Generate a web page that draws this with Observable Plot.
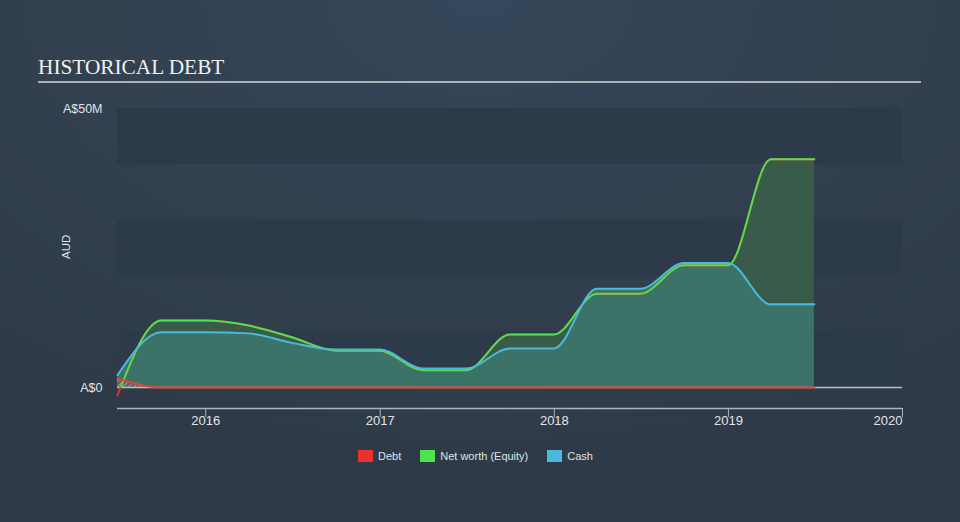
<!DOCTYPE html>
<html>
<head>
<meta charset="utf-8">
<script src="https://cdn.jsdelivr.net/npm/d3@7"></script>
<script src="https://cdn.jsdelivr.net/npm/@observablehq/plot@0.6"></script>
<style>
  html, body { margin: 0; padding: 0; }
  #wrap {
    position: relative; width: 960px; height: 522px; overflow: hidden;
    background: radial-gradient(ellipse 80% 90% at 50% 0%, #35475a 0%, #323f4e 60%, #2e3a47 100%);
    font-family: "Liberation Sans", Arial, sans-serif;
  }
  #title {
    position: absolute; left: 38px; top: 56px; margin: 0;
    font-family: "Liberation Serif", "Times New Roman", serif;
    font-size: 21.3px; line-height: 22px; font-weight: normal; color: #f0f0f0;
  }
  #rule { position: absolute; left: 38px; top: 81px; width: 883px; height: 2px; background: #aab1b9; }
  #chart { position: absolute; left: 0; top: 0; }
  #legend {
    position: absolute; left: 358px; top: 450px; height: 12px;
    display: flex; align-items: center; font-size: 11px; color: #dfe3e7;
  }
  .item { display: flex; align-items: center; margin-right: 19px; }
  .sw { width: 15px; height: 12px; margin-right: 5px; }
</style>
</head>
<body>
<div id="wrap">
  <div id="title">HISTORICAL DEBT</div>
  <div id="rule"></div>
  <div id="chart"></div>
  <div id="legend"></div>
</div>
<script>
// ---- data (values in A$ millions) ----
const dates = ["2015-06-30","2015-09-30","2015-12-31","2016-03-31","2016-06-30","2016-09-30",
  "2016-12-31","2017-03-31","2017-06-30","2017-09-30","2017-12-31","2018-03-31","2018-06-30",
  "2018-09-30","2018-12-31","2019-03-31","2019-06-30"];
const netWorth = [-1.4, 12.0, 12.0, 11.1, 9.0, 6.6, 6.6, 3.1, 3.1, 9.5, 9.5, 16.8, 16.8, 21.9, 21.9, 40.9, 40.9];
const cash     = [2.2, 9.9, 9.9, 9.7, 8.0, 6.8, 6.8, 3.4, 3.4, 7.0, 7.0, 17.7, 17.7, 22.3, 22.3, 14.9, 14.9];
const debt     = [1.6, 0, 0, 0, 0, 0, 0, 0, 0, 0, 0, 0, 0, 0, 0, 0, 0];
const xDomain = ["2015-06-30", "2020-01-01"];
const yearTicks = ["2016-01-01","2017-01-01","2018-01-01","2019-01-01"];
const lastTick = ["2020-01-01"];
const yTicks = [0, 50];
const yLabels = ["A$0", "A$50M"];
const bandLow = [0, 20, 40];
const bandHigh = [10, 30, 50];
const seriesNames = ["Debt", "Net worth (Equity)", "Cash"];
const seriesColors = ["#e8302e", "#4fe24f", "#4bb8dc"];

const toDate = s => new Date(s + "T00:00:00Z");
const rows = dates.map((d, i) => ({date: toDate(d), netWorth: netWorth[i], cash: cash[i], debt: debt[i]}));
const bands = bandLow.map((lo, i) => ({lo, hi: bandHigh[i]}));
const xd = xDomain.map(toDate);

const axisStyle = {tickFormat: "%Y", tickSize: 9, tickPadding: -2, dy: 21,
  stroke: "#aab2bb", fill: "#e0e4e8", fontSize: 13, label: null};

const chart = Plot.plot({
  width: 960, height: 522,
  marginLeft: 117, marginRight: 58, marginTop: 108, marginBottom: 135,
  style: {background: "transparent", color: "#dde2e6", fontFamily: "'Liberation Sans', Arial, sans-serif", overflow: "visible"},
  x: {type: "utc", domain: xd},
  y: {domain: [0, 50]},
  marks: [
    Plot.rect(bands, {x1: () => xd[0], x2: () => xd[1], y1: "lo", y2: "hi", fill: "#2d3a49"}),
    Plot.areaY(rows, {x: "date", y: "netWorth", fill: "#395c4a", curve: "monotone-x", clip: true}),
    Plot.areaY(rows, {x: "date", y: "cash", fill: "#3c7369", curve: "monotone-x", clip: true}),
    Plot.areaY(rows, {x: "date", y: "debt", fill: "url(#hatch)", curve: "monotone-x", clip: true}),
    Plot.ruleY([0], {stroke: "#b9bec4", strokeWidth: 1.5}),
    Plot.line(rows, {x: "date", y: "netWorth", stroke: seriesColors[0], strokeWidth: 2, curve: "monotone-x"}),
    Plot.line(rows, {x: "date", y: "netWorth", stroke: seriesColors[1], strokeWidth: 2, curve: "monotone-x", clip: true}),
    Plot.line(rows, {x: "date", y: "cash", stroke: seriesColors[2], strokeWidth: 2, curve: "monotone-x"}),
    Plot.line(rows, {x: "date", y: "debt", stroke: "#e0443c", strokeWidth: 2, curve: "monotone-x"}),
    Plot.ruleY([0], {dy: 21, stroke: "#aab2bb", strokeWidth: 1.5}),
    Plot.axisX({ticks: yearTicks.map(toDate), ...axisStyle}),
    Plot.axisX({ticks: lastTick.map(toDate), ...axisStyle, textAnchor: "end"}),
    Plot.axisY({ticks: yTicks, tickSize: 0, tickPadding: 15, tickFormat: d => yLabels[yTicks.indexOf(d)],
      fill: "#e0e4e8", fontSize: 12.5, label: null}),
    Plot.text(["AUD"], {frameAnchor: "left", rotate: -90, dx: -51, dy: 11, fill: "#dde2e6", fontSize: 11.5})
  ]
});

// hatch pattern for the debt area
const ns = "http://www.w3.org/2000/svg";
const defs = document.createElementNS(ns, "defs");
defs.innerHTML = `<pattern id="hatch" patternUnits="userSpaceOnUse" width="4" height="4" patternTransform="rotate(45)">
  <rect width="4" height="4" fill="#8a4f52" fill-opacity="0.45"></rect>
  <line x1="0" y1="0" x2="0" y2="4" stroke="#c9c9c9" stroke-width="1.5" stroke-opacity="0.7"></line>
</pattern>`;
chart.insertBefore(defs, chart.firstChild);
document.getElementById("chart").appendChild(chart);

// legend
const legend = document.getElementById("legend");
seriesNames.forEach((name, i) => {
  const item = document.createElement("div");
  item.className = "item";
  const sw = document.createElement("div");
  sw.className = "sw";
  sw.style.background = seriesColors[i];
  const t = document.createElement("span");
  t.textContent = name;
  item.appendChild(sw); item.appendChild(t);
  legend.appendChild(item);
});
</script>
</body>
</html>
